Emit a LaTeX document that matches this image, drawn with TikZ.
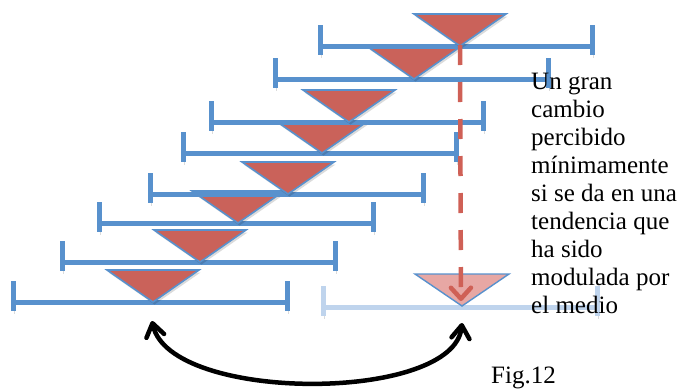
\documentclass[tikz,border=0pt]{standalone}
\usepackage{fontspec}
\setmainfont{Liberation Serif}
\usetikzlibrary{arrows.meta}
\definecolor{BarBlue}{RGB}{88,145,205}
\definecolor{BarPale}{RGB}{191,212,237}
\definecolor{TriRed}{RGB}{202,98,90}
\definecolor{TriPale}{RGB}{231,167,164}
\definecolor{DashRed}{RGB}{207,96,86}
\tikzset{
  bar/.style={line width=5pt,draw=BarBlue,
              preaction={draw=black,opacity=0.14,
                         transform canvas={shift={(1.5pt,-2.5pt)}}}},
  palebar/.style={bar,draw=BarPale},
  tri/.style={fill=TriRed,draw=BarBlue,line width=1.6pt,
              preaction={fill=black,opacity=0.14,
                         transform canvas={shift={(1.5pt,-2.5pt)}}}},
  paletri/.style={fill=TriPale,draw=BarBlue,line width=1.4pt},
  drift/.style={-{Straight Barb[length=11pt,width=20pt,round]},line width=4.5pt,
                DashRed,dash pattern=on 20pt off 17pt},
  swap/.style={{Straight Barb[length=13pt,width=18pt,round]}-{Straight Barb[length=13pt,width=18pt,round]},
               line width=4.5pt,black},
  note/.style={font=\fontsize{25}{28}\selectfont,align=left,inner sep=0pt},
}

\begin{document}
\begin{tikzpicture}[x=1pt,y=-1pt]
  \useasboundingbox (0,0) rectangle (678,389);
  % bars with their markers, bottom one first
  \foreach \l/\r/\y/\a [count=\i] in {13/287/302/153,62/335/262/200,
      99/373/223/238,150/423/194/288,183/456/153/322,
      211/483/122/349,275/548/79/414,320/592/46/460}{
    \draw[bar] (\l,\y-21) -- (\l,\y+9) (\l,\y) -- (\r,\y) (\r,\y-21) -- (\r,\y+9);
    \draw[tri] (\a-46,\y-32) -- (\a+46,\y-32) -- (\a,\y) -- cycle;
    \coordinate (m\i) at (\a,\y);
  }
  % faded bar on the right
  \draw[palebar] (323,286) -- (323,316) (323,307) -- (597,307) (597,286) -- (597,316);
  \draw[paletri] (415,274) -- (509,274) -- (462,306) -- cycle;
  \coordinate (goal) at (461,306);
  \coordinate (src) at (152,321);
  \coordinate (dst) at (462,323);

  \draw[drift,shorten >=5pt] ([yshift=1pt]m8) -- (goal);
  \draw[swap] (src) .. controls +(18,82) and +(-8,80) .. (dst);

  \node[note,anchor=north west] (text) at (531,73)
    {Un gran\\cambio\\percibido\\mínimamente\\si se da en una\\tendencia que\\ha sido\\modulada por\\el medio};
  \node[note,anchor=base west] (fig) at (491,383) {Fig.12};
\end{tikzpicture}
\end{document}
